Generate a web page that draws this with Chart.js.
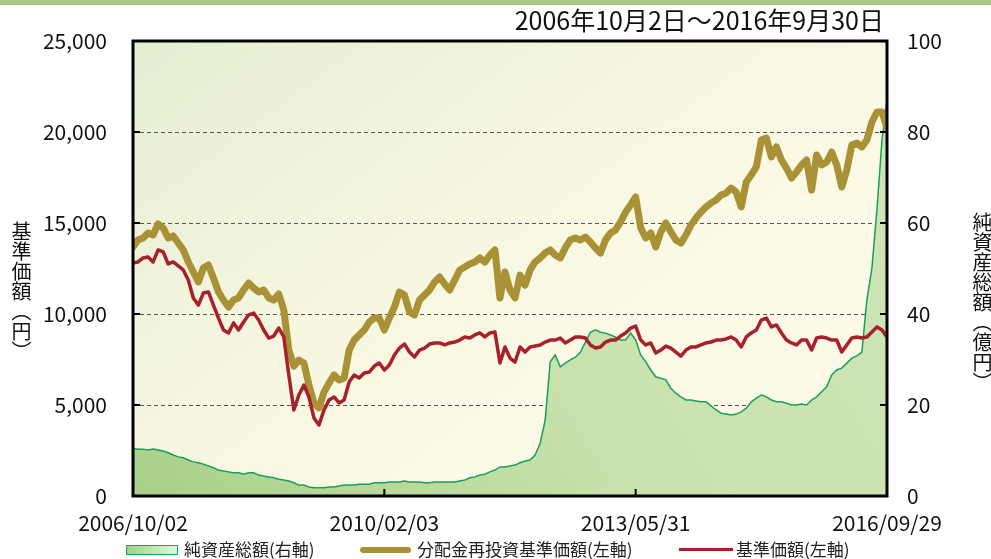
<!DOCTYPE html>
<html>
<head>
<meta charset="utf-8">
<script src="https://cdn.jsdelivr.net/npm/chart.js@4.4.1/dist/chart.umd.min.js"></script>
<style>
  html,body{margin:0;padding:0;background:#fff;}
  #wrap{position:relative;width:991px;height:559px;overflow:hidden;font-family:"Noto Sans CJK JP","Noto Sans",sans-serif;color:#111;}
  #topbar{position:absolute;left:0;top:0;width:991px;height:5px;background:#a9cb81;}
  #title{position:absolute;right:107px;top:4px;font-size:25px;line-height:30px;white-space:nowrap;}
  .vt{position:absolute;writing-mode:vertical-rl;font-size:20px;line-height:22px;letter-spacing:0px;}
  .lg{position:absolute;}
  .lt{position:absolute;font-size:17px;line-height:20px;top:539px;white-space:nowrap;color:#222;}
  canvas{position:absolute;left:0;top:0;}
</style>
</head>
<body>
<div id="wrap">
  <canvas id="c" width="991" height="559"></canvas>
  <div id="topbar"></div>
  <div id="title">2006年10月2日～2016年9月30日</div>
  <div class="vt" style="left:10px;top:221px;">基準価額（円）</div>
  <div class="vt" style="left:971px;top:212px;">純資産総額（億円）</div>
  <div class="lg" style="left:126px;top:545px;width:50px;height:8px;border:1px solid #19a55d;background:linear-gradient(to right,#a6cf88,#e6f2d8);"></div>
  <div class="lt" style="left:184px;">純資産総額(右軸)</div>
  <div class="lg" style="left:360px;top:547px;width:51px;height:6px;border-radius:3px;background:#a99236;"></div>
  <div class="lt" style="left:417px;">分配金再投資基準価額(左軸)</div>
  <div class="lg" style="left:679px;top:548px;width:54px;height:3px;background:#a8202a;"></div>
  <div class="lt" style="left:736px;">基準価額(左軸)</div>
</div>
<script>
// x tick labels (dates) placed at sample indices 0, 50, 100, 150
const xTickLabels = ['2006/10/02','2010/02/03','2013/05/31','2016/09/29'];

// 分配金再投資基準価額 (left axis, 円)
const reinvestNav = [
 13680,14070,14180,14450,14340,14950,14730,14180,14290,13900,
 13520,12860,12310,11760,12530,12690,11980,11210,10770,10380,
 10770,10880,11320,11700,11430,11210,11320,10880,10770,11100,
 10220,8020,7140,7470,7310,6100,5110,4840,5710,6210,
 6650,6370,6480,8020,8570,8850,9120,9560,9780,9780,
 9120,9780,10380,11210,11040,10110,9950,10770,11040,11320,
 11760,12030,11650,11320,11870,12420,12580,12750,12860,13080,
 12860,13240,13520,10880,12310,11320,10880,12140,11590,12420,
 12860,13080,13350,13520,13240,13080,13630,14070,14180,14070,
 14230,13960,13630,13350,14070,14450,14620,15060,15600,15990,
 16430,14730,14180,14450,13680,14510,15000,14510,14070,13900,
 14340,14890,15270,15600,15880,16100,16260,16540,16650,16920,
 16700,15880,17250,17640,18080,19560,19670,18630,19180,18460,
 18020,17470,17800,18190,18460,16810,18740,18190,18350,18900,
 18190,16980,17910,19290,19400,19180,19560,20550,21100,21100,
 20220];

// 基準価額 (left axis, 円)
const nav = [
 12800,12860,13080,13130,12860,13520,13410,12750,12860,12640,
 12420,11870,10880,10490,11150,11210,10490,9780,9120,8960,
 9510,9120,9560,9950,10050,9670,9120,8680,8790,9230,
 8740,6650,4730,5550,6100,5440,4290,3900,4730,5270,
 5440,5110,5270,6260,6650,6480,6760,6810,7140,7310,
 6920,7200,7750,8130,8350,7910,7640,8020,8130,8350,
 8410,8410,8300,8410,8460,8570,8740,8680,8850,8960,
 8740,8960,9010,7310,8190,7580,7360,8190,7910,8190,
 8240,8300,8460,8570,8570,8680,8410,8570,8740,8740,
 8680,8300,8130,8190,8460,8570,8570,8790,8960,9230,
 9340,8570,8300,8410,7860,8020,8240,8130,7910,7690,
 8020,8190,8190,8300,8410,8460,8570,8570,8630,8740,
 8570,8190,8740,8960,9120,9670,9780,9290,9400,8960,
 8570,8410,8300,8570,8570,8020,8680,8740,8680,8570,
 8570,7910,8300,8680,8740,8680,8740,9010,9290,9120,
 8740];

// 純資産総額 (right axis, 億円)
const netAssets = [
 10.5,10.3,10.3,10.1,10.3,10.1,9.9,9.5,9.0,8.6,
 8.4,7.9,7.5,7.3,7.0,6.6,6.2,5.7,5.5,5.3,
 5.1,5.1,4.8,5.1,5.1,4.6,4.4,4.2,4.0,3.7,
 3.5,3.3,2.9,2.4,2.4,2.0,1.8,1.8,1.8,2.0,
 2.0,2.2,2.4,2.4,2.4,2.6,2.6,2.6,2.9,2.9,
 2.9,3.1,3.1,3.1,3.3,3.1,3.1,3.1,2.9,2.9,
 3.1,3.1,3.1,3.1,3.1,3.3,3.5,4.0,4.2,4.6,
 4.8,5.3,5.7,6.4,6.4,6.6,6.8,7.3,7.7,7.9,
 9.0,11.6,16.7,29.5,31.0,28.4,29.2,29.9,30.5,31.6,
 33.8,36.0,36.5,36.0,35.8,35.4,34.9,34.3,34.3,35.8,
 34.3,31.0,29.5,27.7,26.2,25.9,25.5,23.7,22.6,21.8,
 21.1,21.1,20.9,20.7,20.7,19.8,18.9,18.2,18.0,17.8,
 18.0,18.5,19.3,20.7,21.5,22.2,21.8,21.1,20.7,20.7,
 20.4,20.0,20.0,20.2,20.0,21.1,21.8,22.9,24.0,26.6,
 27.7,28.1,29.2,30.3,30.8,31.6,43.1,50.1,62.9,78.2,
 87.0];

const toXY = arr => arr.map((v, i) => ({x: i, y: v}));

const plotDeco = {
  id: 'plotDeco',
  beforeDraw(chart) {
    const {ctx, chartArea: a} = chart;
    if (!a) return;
    ctx.save();
    const g = ctx.createLinearGradient(a.left, a.top, a.left + (a.right - a.left) * 0.45, a.bottom);
    g.addColorStop(0, '#e4eed3');
    g.addColorStop(0.55, '#f6f6e0');
    g.addColorStop(1, '#fcfae7');
    ctx.fillStyle = g;
    ctx.fillRect(a.left, a.top, a.right - a.left, a.bottom - a.top);
    ctx.restore();
  },
  afterDatasetsDraw(chart) {
    const {ctx, chartArea: a, scales} = chart;
    ctx.save();
    ctx.strokeStyle = '#000';
    ctx.lineWidth = 2;
    ctx.beginPath();
    scales.y.ticks.forEach(t => {
      const py = scales.y.getPixelForValue(t.value);
      ctx.moveTo(a.left, py); ctx.lineTo(a.left + 7, py);
    });
    scales.y2.ticks.forEach(t => {
      const py = scales.y2.getPixelForValue(t.value);
      ctx.moveTo(a.right - 7, py); ctx.lineTo(a.right, py);
    });
    scales.x.ticks.forEach(t => {
      const px = scales.x.getPixelForValue(t.value);
      ctx.moveTo(px, a.bottom); ctx.lineTo(px, a.bottom - 7);
    });
    ctx.stroke();
    ctx.lineWidth = 3;
    ctx.strokeRect(a.left, a.top, a.right - a.left, a.bottom - a.top);
    ctx.restore();
  }
};

Chart.defaults.font.family = '"Noto Sans CJK JP","Noto Sans",sans-serif';
Chart.defaults.color = '#111';

new Chart(document.getElementById('c'), {
  type: 'line',
  data: {
    datasets: [
      {
        label: '基準価額(左軸)',
        data: toXY(nav),
        yAxisID: 'y',
        borderColor: '#a8202a',
        borderWidth: 3.5,
        pointRadius: 0,
        borderJoinStyle: 'round',
        borderCapStyle: 'round',
        fill: false,
        order: 1
      },
      {
        label: '分配金再投資基準価額(左軸)',
        data: toXY(reinvestNav),
        yAxisID: 'y',
        borderColor: '#a99236',
        borderWidth: 7,
        pointRadius: 0,
        borderJoinStyle: 'round',
        borderCapStyle: 'round',
        fill: false,
        order: 2
      },
      {
        label: '純資産総額(右軸)',
        data: toXY(netAssets),
        yAxisID: 'y2',
        borderColor: '#17a05c',
        borderWidth: 1.5,
        pointRadius: 0,
        fill: 'origin',
        backgroundColor: (ctx) => {
          const a = ctx.chart.chartArea;
          if (!a) return '#c0dea2';
          const g = ctx.chart.ctx.createLinearGradient(a.left, a.bottom, a.right, a.top);
          g.addColorStop(0, '#a9d08a');
          g.addColorStop(0.5, '#c8e2ad');
          g.addColorStop(1, '#cfe6b8');
          return g;
        },
        order: 3
      }
    ]
  },
  options: {
    animation: false,
    responsive: false,
    layout: {padding: {top: 41, left: 0, right: 0, bottom: 0}},
    plugins: {legend: {display: false}, tooltip: {enabled: false}},
    scales: {
      x: {
        type: 'linear', min: 0, max: 150,
        grid: {display: false},
        border: {display: false},
        ticks: {
          stepSize: 50, autoSkip: false, maxRotation: 0, padding: 6,
          font: {size: 21}, color: '#111',
          callback: (v) => xTickLabels[Math.round(v / 50)] || ''
        },
        afterFit: (s) => { s.height = 63; }
      },
      y: {
        position: 'left', min: 0, max: 25000,
        grid: {color: '#555', lineWidth: 1, drawTicks: false},
        border: {display: false, dash: [4, 3]},
        ticks: {
          stepSize: 5000, padding: 26, font: {size: 21}, color: '#111',
          callback: (v) => v.toLocaleString('en-US')
        },
        afterFit: (s) => { s.width = 133; }
      },
      y2: {
        position: 'right', min: 0, max: 100,
        grid: {display: false, drawTicks: false},
        border: {display: false},
        ticks: {stepSize: 20, padding: 20, font: {size: 21}, color: '#111'},
        afterFit: (s) => { s.width = 104; }
      }
    }
  },
  plugins: [plotDeco]
});
</script>
</body>
</html>
